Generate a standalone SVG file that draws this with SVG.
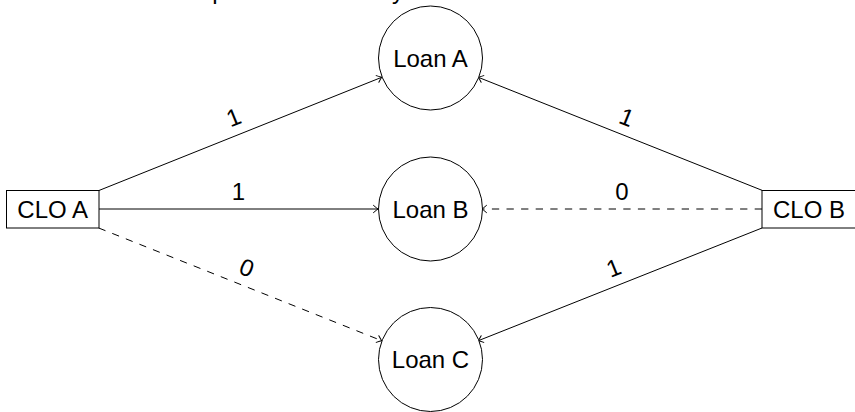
<svg xmlns="http://www.w3.org/2000/svg" width="855" height="412" viewBox="0 0 855 412">
  <defs>
    <marker id="tip" viewBox="-6 -5 8 10" markerWidth="8" markerHeight="10" refX="0" refY="0" orient="auto" markerUnits="userSpaceOnUse">
      <path d="M -4.5,-3.6 Q -1.2,-0.8 0,0 Q -1.2,0.8 -4.5,3.6" fill="none" stroke="#000" stroke-width="1" stroke-linecap="round"/>
    </marker>
  </defs>
  <style>
    .lbl { font-family: "Liberation Sans", Arial, sans-serif; font-size: 24px; fill: #000; text-anchor: middle; }
    .node-shape { fill: #fff; stroke: #000; stroke-width: 1; }
    .edge { fill: none; stroke: #000; stroke-width: 1; marker-end: url(#tip); }
    .dashed { stroke-dasharray: 7.3 7.3; }
  </style>

  <rect width="855" height="412" fill="#fff"/>

  <!-- heading line above the figure, cut off by the top edge -->
  <g id="heading">
    <text class="lbl" x="219" y="-1">p</text>
    <text class="lbl" x="398" y="-1">y</text>
  </g>

  <!-- connectors -->
  <g id="connectors">
    <line class="edge" x1="98.7" y1="190.6" x2="381.7" y2="77.3"/>
    <line class="edge" x1="99" y1="209" x2="378" y2="209"/>
    <line class="edge dashed" x1="98.7" y1="228" x2="381.7" y2="340.7"/>
    <line class="edge" x1="762" y1="190.3" x2="478.3" y2="77.3"/>
    <line class="edge dashed" x1="762" y1="209" x2="482" y2="209"/>
    <line class="edge" x1="762" y1="228" x2="478.3" y2="340.7"/>

    <!-- edge weights, placed above each edge and turned with it -->
    <text class="lbl" transform="translate(240.2,133.9) rotate(-21.8)" x="0" y="-9.5">1</text>
    <text class="lbl" x="238.5" y="200">1</text>
    <text class="lbl" transform="translate(240.2,284.4) rotate(21.7)" x="0" y="-9.5">0</text>
    <text class="lbl" transform="translate(620.1,133.8) rotate(21.7)" x="0" y="-9.5">1</text>
    <text class="lbl" x="622" y="200">0</text>
    <text class="lbl" transform="translate(620.1,284.4) rotate(-21.7)" x="0" y="-9.5">1</text>
  </g>

  <g id="clo-a">
    <rect class="node-shape" x="6.5" y="190.5" width="92.5" height="37.5"/>
    <text class="lbl" x="52.7" y="217.7">CLO A</text>
  </g>

  <g id="clo-b">
    <rect class="node-shape" x="762" y="190.5" width="94" height="37.5"/>
    <text class="lbl" x="809" y="217.7">CLO B</text>
  </g>

  <g id="loan-a">
    <circle class="node-shape" cx="430.5" cy="58" r="52"/>
    <text class="lbl" x="430.5" y="66.6">Loan A</text>
  </g>

  <g id="loan-b">
    <circle class="node-shape" cx="430.5" cy="209" r="52"/>
    <text class="lbl" x="430.5" y="217.6">Loan B</text>
  </g>

  <g id="loan-c">
    <circle class="node-shape" cx="430.5" cy="359.5" r="52"/>
    <text class="lbl" x="430.5" y="368.1">Loan C</text>
  </g>
</svg>
